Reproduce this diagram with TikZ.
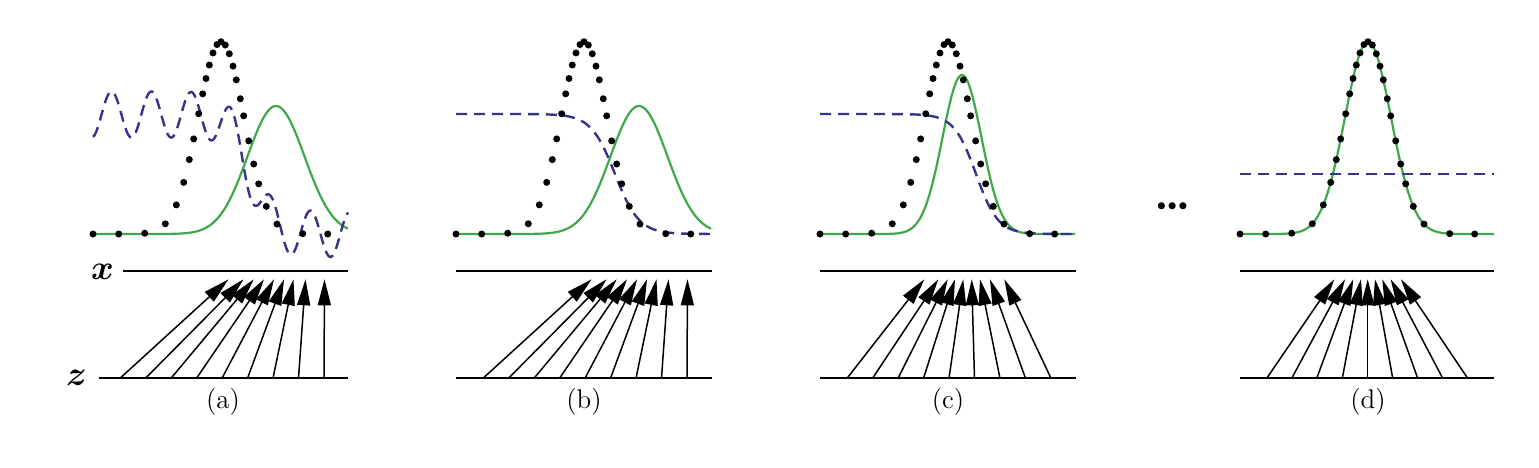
\documentclass[tikz,border=0pt]{standalone}
\usetikzlibrary{arrows.meta}
\usepackage{bm}
\definecolor{gcol}{RGB}{62,168,74}
\definecolor{dcol}{RGB}{52,52,140}
\begin{document}
\begin{tikzpicture}[x=0.5pt,y=-0.5pt,
  axisline/.style={line width=1.1pt},
  pgline/.style={gcol, line width=1.1pt},
  discline/.style={dcol, line width=1.2pt, dash pattern=on 5.5pt off 3.5pt},
  gen/.style={line width=0.75pt, -{Triangle[length=13pt,width=6.5pt]}},
  datadot/.style={fill=black},
  captxt/.style={font=\fontsize{13.5}{16}\selectfont, inner sep=0pt},
  axlabel/.style={font=\fontsize{16.5}{19}\selectfont, inner sep=0pt}]
\useasboundingbox (0,0) rectangle (1539,467);

% ---------- helpers ----------
\def\dotlist{-128,-102.3,-76.3,-55.7,-44.7,-37.3,-31.7,-27.3,-22.3,-18.3,-15,-11.7,-8,-4,0,4.3,8.3,12,15.3,19.3,22.7,27.7,32.7,37.7,45.3,56,81.7,106.7}

% ================= panel (a) =================
\def\xo{93}
\draw[pgline] plot[domain=0:255, samples=160] ({\xo+\x}, {234-128*exp(-0.5*((\x-183)/28.5)^2)});
\draw[discline] plot[domain=0:255, samples=300] ({\xo+\x}, {234-(119.5/(1+exp((\x-157.2)/10.6)) + 23*cos(deg(6.2832*(\x-18.5)/39.8)))});
\foreach \d in \dotlist
  \fill[datadot] ({\xo+128+(\d)}, {234-192.3*exp(-0.5*((\d)/23)^2)}) circle[radius=1.75pt];
\coordinate (xla) at (123,270.7); \coordinate (xra) at (348,270.7);
\coordinate (zla) at (98.5,378.3); \coordinate (zra) at (348,378.3);
\draw[axisline] (xla) -- (xra);
\draw[axisline] (zla) -- (zra);
\foreach \b/\t [count=\i] in {27/135.5,52.5/150.5,78/160.7,103.5/171,129/181,154.5/191,180/200.5,205.5/212.5,231/231.5} {
  \coordinate (za\i) at ({\xo+\b},378.3);
  \coordinate (xa\i) at ({\xo+\t},279.3);
  \draw[gen] (za\i) -- (xa\i);
}
\node[axlabel] (labx) at (102.5,272) {$\bm{x}$};
\node[axlabel] (labz) at (76.5,378.3) {$\bm{z}$};
\node[captxt] (capa) at ({\xo+130},402) {(a)};

% ================= panel (b) =================
\def\xo{456}
\draw[pgline] plot[domain=0:255, samples=160] ({\xo+\x}, {234-128*exp(-0.5*((\x-183)/28.5)^2)});
\draw[discline] plot[domain=0:256, samples=200] ({\xo+\x}, {234-120/(1+exp((\x-159)/12))});
\foreach \d in \dotlist
  \fill[datadot] ({\xo+128+(\d)}, {234-192.3*exp(-0.5*((\d)/23)^2)}) circle[radius=1.75pt];
\coordinate (xlb) at (\xo,270.7); \coordinate (xrb) at ({\xo+256},270.7);
\coordinate (zlb) at (\xo,378.3); \coordinate (zrb) at ({\xo+256},378.3);
\draw[axisline] (xlb) -- (xrb);
\draw[axisline] (zlb) -- (zrb);
\foreach \b/\t [count=\i] in {27/135.5,52.5/150.5,78/160.7,103.5/171,129/181,154.5/191,180/200.5,205.5/212.5,231/231.5} {
  \coordinate (zb\i) at ({\xo+\b},378.3);
  \coordinate (xb\i) at ({\xo+\t},279.3);
  \draw[gen] (zb\i) -- (xb\i);
}
\node[captxt] (capb) at ({\xo+128},402) {(b)};

% ================= panel (c) =================
\def\xo{820}
\draw[pgline] plot[domain=0:255, samples=160] ({\xo+\x}, {234-159*exp(-0.5*((\x-142)/19.5)^2)});
\draw[discline] plot[domain=0:256, samples=200] ({\xo+\x}, {234-120/(1+exp((\x-156)/11))});
\foreach \d in \dotlist
  \fill[datadot] ({\xo+128+(\d)}, {234-192.3*exp(-0.5*((\d)/23)^2)}) circle[radius=1.75pt];
\coordinate (xlc) at (\xo,270.7); \coordinate (xrc) at ({\xo+256},270.7);
\coordinate (zlc) at (\xo,378.3); \coordinate (zrc) at ({\xo+256},378.3);
\draw[axisline] (xlc) -- (xrc);
\draw[axisline] (zlc) -- (zrc);
\foreach \b/\t [count=\i] in {27/104.3,52.5/118.3,78/127.7,103.5/135,129/143.3,154.5/151.7,180/160,205.5/170,231/184.3} {
  \coordinate (zc\i) at ({\xo+\b},378.3);
  \coordinate (xc\i) at ({\xo+\t},279.3);
  \draw[gen] (zc\i) -- (xc\i);
}
\node[captxt] (capc) at ({\xo+128},402) {(c)};

% ================= dots between =================
\node[font=\fontsize{13}{16}\selectfont, inner sep=0pt] (ellip) at (1172.3,207.3) {\textbullet\kern-4.5pt\textbullet\kern-4.5pt\textbullet};

% ================= panel (d) =================
\def\xo{1240}
\draw[pgline] plot[domain=0:254, samples=160] ({\xo+\x}, {234-192.3*exp(-0.5*((\x-128)/23)^2)});
\coordinate (dl) at (\xo,174); \coordinate (dr) at ({\xo+254},174);
\draw[discline] (dl) -- (dr);
\foreach \d in \dotlist
  \fill[datadot] ({\xo+128+(\d)}, {234-192.3*exp(-0.5*((\d)/23)^2)}) circle[radius=1.75pt];
\coordinate (xld) at (\xo,270.7); \coordinate (xrd) at ({\xo+254},270.7);
\coordinate (zld) at (\xo,378.3); \coordinate (zrd) at ({\xo+254},378.3);
\draw[axisline] (xld) -- (xrd);
\draw[axisline] (zld) -- (zrd);
\foreach \b/\t [count=\i] in {26.7/94.3,51.7/105,76.7/113.3,102.3/121,127.7/127.7,152.7/135,177.7/142.3,202.7/150.7,227.7/161} {
  \coordinate (zd\i) at ({\xo+\b},378.3);
  \coordinate (xd\i) at ({\xo+\t},279.3);
  \draw[gen] (zd\i) -- (xd\i);
}
\node[captxt] (capd) at ({\xo+128},402) {(d)};
\end{tikzpicture}
\end{document}
